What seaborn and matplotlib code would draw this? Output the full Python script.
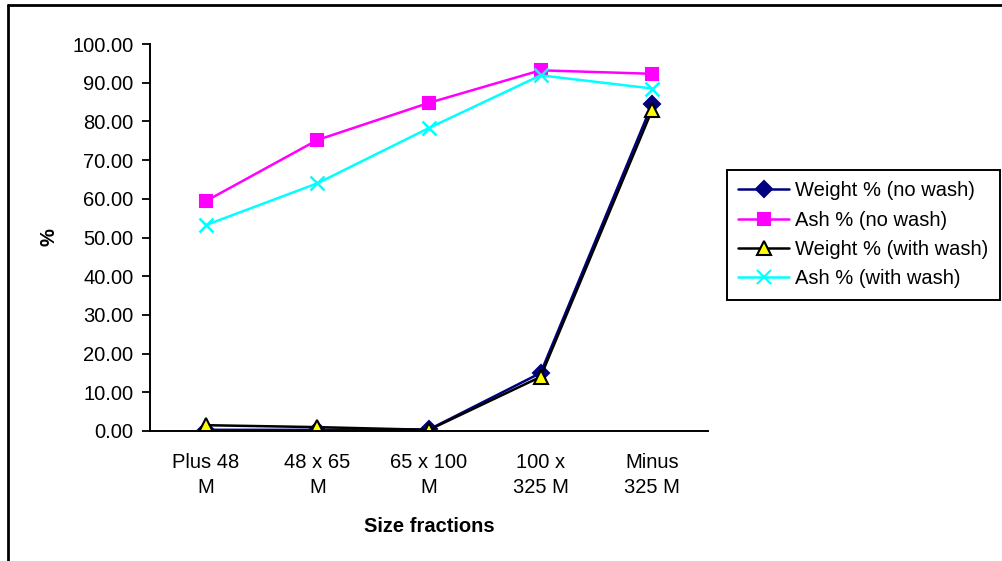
import matplotlib
matplotlib.use("Agg")
import matplotlib.pyplot as plt
import seaborn as sns
import pandas as pd
from matplotlib.lines import Line2D

categories = ["Plus 48\nM", "48 x 65\nM", "65 x 100\nM", "100 x\n325 M", "Minus\n325 M"]
weight_no_wash = [0.3, 0.3, 0.4, 15.0, 84.5]
ash_no_wash = [59.4, 75.2, 84.8, 93.2, 92.3]
weight_with_wash = [1.5, 1.0, 0.3, 14.0, 83.0]
ash_with_wash = [53.2, 64.0, 78.3, 91.9, 88.5]

series = [
    ("Weight % (no wash)", weight_no_wash, dict(color="#000080", marker="D", mfc="#000080", mec="#000080", ms=8)),
    ("Ash % (no wash)", ash_no_wash, dict(color="#ff00ff", marker="s", mfc="#ff00ff", mec="#ff00ff", ms=8)),
    ("Weight % (with wash)", weight_with_wash, dict(color="#000000", marker="^", mfc="#ffff00", mec="#000000", ms=10)),
    ("Ash % (with wash)", ash_with_wash, dict(color="#00ffff", marker="x", mfc="#00ffff", mec="#00ffff", ms=10)),
]

sns.set_style("white")
plt.rcParams["font.family"] = ["Liberation Sans", "DejaVu Sans"]
plt.rcParams["text.color"] = "black"
plt.rcParams["xtick.color"] = "black"
plt.rcParams["ytick.color"] = "black"
plt.rcParams["axes.labelcolor"] = "black"

FS = 14.5

fig = plt.figure(figsize=(10.02, 5.61), dpi=100)
ax = fig.add_axes([150/1002, 1-431/561, (708-150)/1002, (431-44)/561])

x = list(range(len(categories)))
handles = []
for name, vals, st in series:
    df = pd.DataFrame({"x": x, "y": vals})
    sns.lineplot(data=df, x="x", y="y", ax=ax, color=st["color"], lw=1.8,
                 marker=st["marker"], markerfacecolor=st["mfc"],
                 markeredgecolor=st["mec"], markersize=st["ms"],
                 markeredgewidth=1.5 if st["marker"] != "x" else 1.8)
    handles.append(Line2D([0], [0], color=st["color"], lw=1.8, marker=st["marker"],
                          markerfacecolor=st["mfc"], markeredgecolor=st["mec"],
                          markersize=st["ms"], markeredgewidth=1.5))

ax.set_xlim(-0.5, len(categories) - 0.5)
ax.set_ylim(0, 100)
ax.set_yticks(range(0, 101, 10))
ax.set_yticklabels([f"{v:.2f}" for v in range(0, 101, 10)], fontsize=FS)
ax.set_xticks(x)
ax.set_xticklabels(categories, fontsize=FS, linespacing=1.4)
ax.set_xticks([i - 0.5 for i in range(len(categories) + 1)], minor=True)
ax.tick_params(axis="x", which="major", length=0, pad=16)
ax.tick_params(axis="x", which="minor", length=6, width=1.3, direction="out", color="black")
ax.tick_params(axis="y", length=6, width=1.3, direction="out", color="black", pad=6, left=True)
for s in ["top", "right"]:
    ax.spines[s].set_visible(False)
for s in ["left", "bottom"]:
    ax.spines[s].set_color("black")
    ax.spines[s].set_linewidth(1.4)
ax.set_xlabel("Size fractions", fontsize=FS, fontweight="bold")
ax.set_ylabel("%", fontsize=FS, fontweight="bold")
ax.xaxis.set_label_coords(0.5, (431-526)/387, transform=ax.transAxes)
ax.xaxis.label.set_va("center")
ax.yaxis.set_label_coords((49-150)/558, 0.5, transform=ax.transAxes)
ax.yaxis.label.set_va("center")

leg = fig.legend(handles, [s[0] for s in series], loc="upper left",
                 bbox_to_anchor=(727/1002, 1-170/561), fontsize=FS,
                 frameon=True, fancybox=False, framealpha=1, edgecolor="black",
                 handlelength=2.55, borderpad=0.55, labelspacing=0.52, handletextpad=0.3,
                 borderaxespad=0)
leg.get_frame().set_linewidth(1.4)

fig.add_artist(Line2D([8/1002, 1], [1-5/561, 1-5/561], color="black", lw=2, transform=fig.transFigure))
fig.add_artist(Line2D([8/1002, 8/1002], [0, 1-5/561], color="black", lw=2, transform=fig.transFigure))

fig.savefig("out.png", dpi=100)
